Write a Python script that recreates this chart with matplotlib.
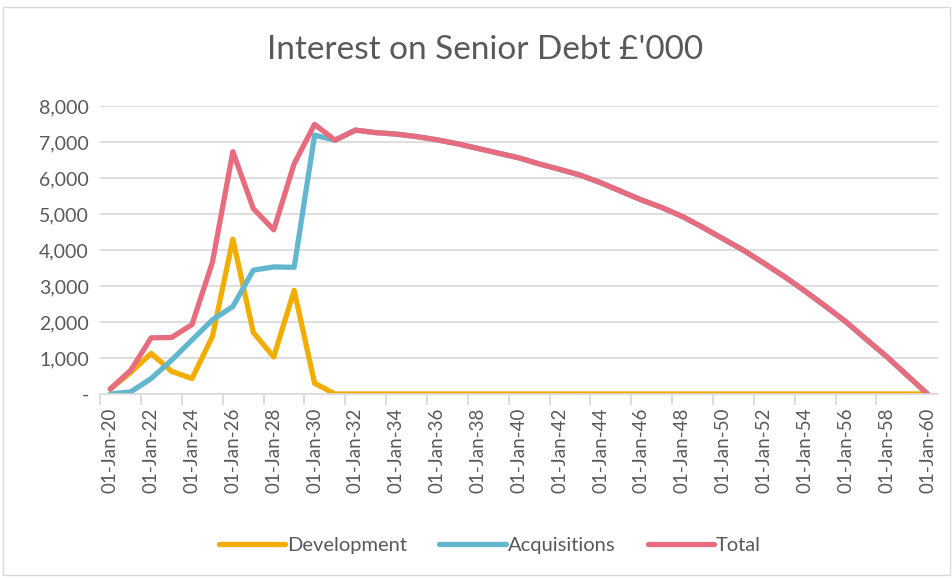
import matplotlib.pyplot as plt
from matplotlib.patches import Rectangle

plt.rcParams['font.family'] = ['Lato', 'DejaVu Sans']

years = list(range(2020, 2061))
tick_labels = ['01-Jan-%02d' % (y % 100) for y in years[::2]]

development = [140, 600, 1130, 630, 430, 1600, 4300, 1710, 1030, 2880,
               300, 0, 0, 0, 0, 0, 0, 0, 0, 0,
               0, 0, 0, 0, 0, 0, 0, 0, 0, 0,
               0, 0, 0, 0, 0, 0, 0, 0, 0, 0, 0]
acquisitions = [0, 60, 430, 940, 1500, 2060, 2430, 3440, 3530, 3520,
                7190, 7050, 7330, 7260, 7220, 7150, 7060, 6950, 6820, 6690,
                6560, 6390, 6240, 6080, 5870, 5630, 5390, 5180, 4930, 4630,
                4310, 3990, 3630, 3260, 2860, 2440, 2010, 1520, 1040, 520, 0]
total = [140, 660, 1560, 1570, 1930, 3660, 6730, 5150, 4560, 6400,
         7490, 7050, 7330, 7260, 7220, 7150, 7060, 6950, 6820, 6690,
         6560, 6390, 6240, 6080, 5870, 5630, 5390, 5180, 4930, 4630,
         4310, 3990, 3630, 3260, 2860, 2440, 2010, 1520, 1040, 520, 0]

grey = '#595959'
grid_c = '#d9d9d9'

fig = plt.figure(figsize=(9.53, 5.78), dpi=100)
ax = fig.add_axes([0.105, 0.3183, 0.879, 0.4983])

x = list(range(len(years)))
kw = dict(lw=3.8, solid_capstyle='round', solid_joinstyle='round')
ax.plot(x, development, color='#f2ae00', label='Development', **kw)
ax.plot(x, acquisitions, color='#62b7cf', label='Acquisitions', **kw)
ax.plot(x, total, color='#e66c7e', label='Total', **kw)

ax.set_xlim(-0.5, 40.5)
ax.set_ylim(0, 8000)
ax.set_yticks(range(0, 8001, 1000))
ax.set_yticklabels(['-'] + ['{:,}'.format(v) for v in range(1000, 8001, 1000)])
ax.yaxis.grid(True, color=grid_c, lw=1.2)
ax.set_axisbelow(True)
ax.tick_params(axis='y', length=0, pad=8, labelsize=14, labelcolor=grey)

ax.set_xticks([i - 0.5 for i in range(0, 40, 2)])
ax.set_xticklabels([])
ax.tick_params(axis='x', which='major', length=8, color=grid_c, width=1.2)
ax.set_xticks(x[::2], minor=True)
ax.set_xticklabels(tick_labels, minor=True, rotation=90)
ax.tick_params(axis='x', which='minor', length=0, pad=10, labelsize=13.5, labelcolor=grey)

for s in ['top', 'right', 'left']:
    ax.spines[s].set_visible(False)
ax.spines['bottom'].set_color(grid_c)
ax.spines['bottom'].set_linewidth(1.2)

fig.text(0.509, 0.913, "Interest on Senior Debt £'000", ha='center', va='center',
         fontsize=24, color=grey)

fig.legend(loc='center', bbox_to_anchor=(0.514, 0.057), ncol=3, frameon=False,
           fontsize=14.5, labelcolor=grey, handlelength=3.3, handletextpad=0.1,
           columnspacing=1.6)

fig.patches.append(Rectangle((0.003, 0.005), 0.994, 0.983, transform=fig.transFigure,
                             fill=False, edgecolor=grid_c, lw=1))

fig.savefig('out.png', dpi=100)
